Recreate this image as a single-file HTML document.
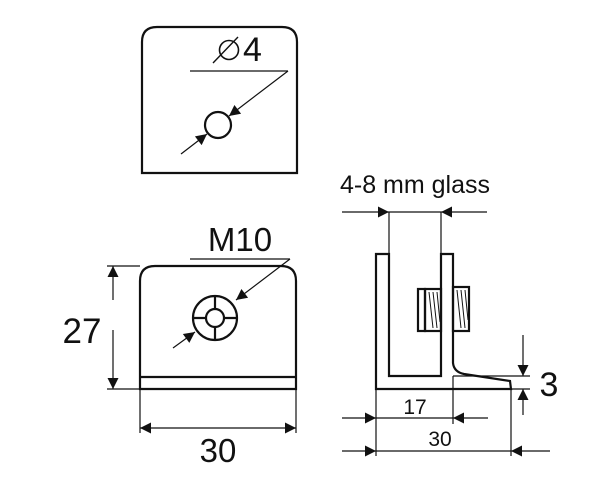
<!DOCTYPE html>
<html><head><style>html,body{margin:0;padding:0;background:#fff}svg{display:block}</style></head><body>
<svg width="600" height="500" viewBox="0 0 600 500" xmlns="http://www.w3.org/2000/svg" font-family="Liberation Sans, sans-serif">
<defs>
<marker id="a" viewBox="0 0 10 10" refX="10" refY="5" markerWidth="15" markerHeight="11" markerUnits="userSpaceOnUse" orient="auto"><path d="M0,0L10,5L0,10z" fill="#111"/></marker>
</defs>
<g stroke="#111" fill="none" stroke-width="2.2">
<path d="M142,173V42Q142,27 157,27H282Q297,27 297,42V173Z"/>
<circle cx="218" cy="125" r="13"/>
</g>
<g stroke="#111" stroke-width="1.2" fill="none">
<line x1="190" y1="71" x2="288" y2="71"/>
<line x1="288" y1="71" x2="229" y2="116" marker-end="url(#a)"/>
<line x1="181" y1="154" x2="207" y2="134" marker-end="url(#a)"/>
<circle cx="229" cy="50" r="9.5" stroke-width="1.6"/>
<line x1="213" y1="63" x2="238" y2="37" stroke-width="1.4"/>
</g>
<text x="243" y="61" font-size="34" fill="#111">4</text>

<g stroke="#111" fill="none" stroke-width="2.2">
<path d="M140,389V281Q140,266 155,266H281Q296,266 296,281V389Z"/>
<line x1="140" y1="377" x2="296" y2="377"/>
<circle cx="215" cy="318" r="22"/>
<circle cx="215" cy="318" r="9"/>
<path d="M206,318H193M224,318H237M215,309V296M215,327V340"/>
</g>
<g stroke="#111" stroke-width="1.2" fill="none">
<line x1="190" y1="259" x2="290" y2="259"/>
<line x1="290" y1="259" x2="236" y2="300" marker-end="url(#a)"/>
<line x1="173" y1="348" x2="195" y2="332" marker-end="url(#a)"/>
<line x1="113" y1="300" x2="113" y2="266" marker-end="url(#a)"/>
<line x1="113" y1="330" x2="113" y2="389" marker-end="url(#a)"/>
<line x1="107" y1="266" x2="140" y2="266"/>
<line x1="107" y1="389" x2="140" y2="389"/>
<line x1="140" y1="389" x2="140" y2="433"/>
<line x1="296" y1="389" x2="296" y2="433"/>
<line x1="218" y1="428" x2="140" y2="428" marker-end="url(#a)"/>
<line x1="218" y1="428" x2="296" y2="428" marker-end="url(#a)"/>
</g>
<text x="240" y="251" font-size="33" fill="#111" text-anchor="middle">M10</text>
<text x="82" y="343" font-size="35" fill="#111" text-anchor="middle">27</text>
<text x="218" y="462" font-size="33" fill="#111" text-anchor="middle">30</text>

<g stroke="#111" fill="none" stroke-width="2.2">
<path d="M376,389V254H389V376H441V254H453V363Q454,372 464,374L510,381L511,389Z"/>
<rect x="418" y="289" width="7" height="42"/>
<rect x="425" y="289" width="16" height="42"/>
<rect x="453" y="287" width="16" height="44"/>
</g>
<g stroke="#111" stroke-width="1" fill="none">
<path d="M429,292l4,36M433,292l4,36M437,292l3,30M457,290l4,38M461,290l4,38M465,290l3,30"/>
</g>
<g stroke="#111" stroke-width="1.2" fill="none">
<line x1="389" y1="212" x2="389" y2="254"/>
<line x1="441" y1="212" x2="441" y2="254"/>
<line x1="342" y1="212" x2="389" y2="212" marker-end="url(#a)"/>
<line x1="487" y1="212" x2="441" y2="212" marker-end="url(#a)"/>
<line x1="389" y1="212" x2="441" y2="212"/>
<line x1="453" y1="376" x2="530" y2="376"/>
<line x1="511" y1="389" x2="530" y2="389"/>
<line x1="523" y1="335" x2="523" y2="376" marker-end="url(#a)"/>
<line x1="523" y1="415" x2="523" y2="389" marker-end="url(#a)"/>
<line x1="376" y1="389" x2="376" y2="456"/>
<line x1="453" y1="376" x2="453" y2="424"/>
<line x1="511" y1="389" x2="511" y2="456"/>
<line x1="342" y1="418" x2="376" y2="418" marker-end="url(#a)"/>
<line x1="376" y1="418" x2="453" y2="418"/>
<line x1="488" y1="418" x2="453" y2="418" marker-end="url(#a)"/>
<line x1="342" y1="451" x2="376" y2="451" marker-end="url(#a)"/>
<line x1="376" y1="451" x2="511" y2="451"/>
<line x1="550" y1="451" x2="511" y2="451" marker-end="url(#a)"/>
</g>
<text x="415" y="193" font-size="25" fill="#111" text-anchor="middle">4-8 mm glass</text>
<text x="415" y="414" font-size="21" fill="#111" text-anchor="middle">17</text>
<text x="440" y="446" font-size="21" fill="#111" text-anchor="middle">30</text>
<text x="549" y="396" font-size="34" fill="#111" text-anchor="middle">3</text>
</svg>
</body></html>
